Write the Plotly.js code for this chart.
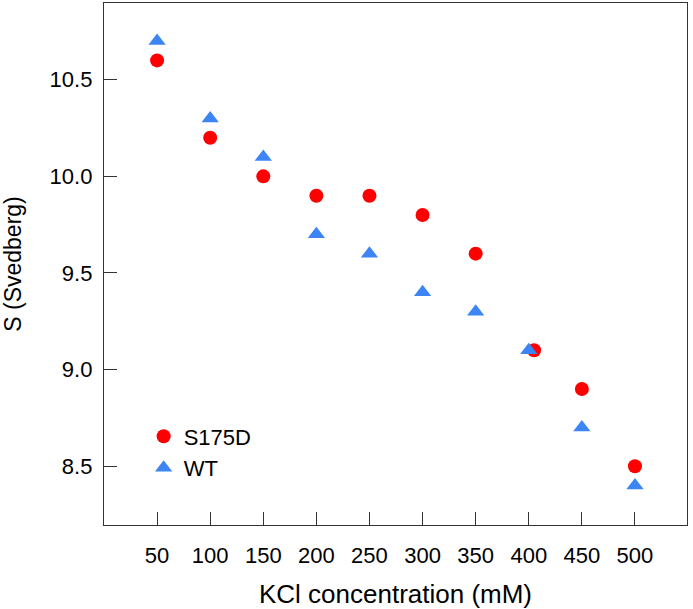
<!DOCTYPE html>
<html>
<head>
<meta charset="utf-8">
<script src="https://cdn.plot.ly/plotly-3.0.1.min.js"></script>
<style>
  html, body { margin: 0; padding: 0; background: #ffffff; }
  #grafica { width: 693px; height: 609px; }
</style>
</head>
<body>
<div id="grafica"></div>
<script>
// === Datos ===
const kclS175D = [50, 100, 150, 200, 250, 300, 350, 405, 450, 500];
const sS175D = [10.6, 10.2, 10.0, 9.9, 9.9, 9.8, 9.6, 9.1, 8.9, 8.5];

const kclWT = [50, 100, 150, 200, 250, 300, 350, 400, 450, 500];
const sWT = [10.7, 10.3, 10.1, 9.7, 9.6, 9.4, 9.3, 9.1, 8.7, 8.4];

const xTicks = [50, 100, 150, 200, 250, 300, 350, 400, 450, 500];
const yTicks = [8.5, 9.0, 9.5, 10.0, 10.5];

const FONT = '"Liberation Sans", Arial, Helvetica, sans-serif';

const traces = [
  {
    x: kclS175D,
    y: sS175D,
    mode: 'markers',
    type: 'scatter',
    name: 'S175D',
    marker: { color: '#ff0000', size: 14, symbol: 'circle' }
  },
  {
    x: kclWT,
    y: sWT,
    mode: 'markers',
    type: 'scatter',
    name: 'WT',
    marker: { color: '#3d85f5', size: 15, symbol: 'triangle-up' }
  }
];

// ejes comunes
const ejeBase = {
  showline: true,
  mirror: true,
  linecolor: '#333333',
  linewidth: 1.3,
  showgrid: false,
  zeroline: false,
  ticks: 'inside',
  ticklen: 13,
  tickwidth: 1.3,
  tickcolor: '#333333',
  tickfont: { family: FONT, size: 22, color: '#000000' }
};

const layout = {
  width: 693,
  height: 609,
  margin: { l: 104, r: 6, t: 2, b: 83 },
  paper_bgcolor: '#ffffff',
  plot_bgcolor: '#ffffff',
  showlegend: true,
  legend: {
    x: 0.068,
    xanchor: 'left',
    y: 0.139,
    yanchor: 'middle',
    bgcolor: 'rgba(0,0,0,0)',
    font: { family: FONT, size: 22, color: '#000000' }
  },
  xaxis: Object.assign({}, ejeBase, {
    range: [0, 549],
    tickvals: xTicks,
    ticktext: xTicks.map(String),
    ticklabelstandoff: 10,
    automargin: true,
    title: {
      text: 'KCl concentration (mM)',
      standoff: 21,
      font: { family: FONT, size: 26, color: '#000000' }
    }
  }),
  yaxis: Object.assign({}, ejeBase, {
    range: [8.196, 10.897],
    tickvals: yTicks,
    ticktext: yTicks.map(v => v.toFixed(1)),
    ticklabelstandoff: 6,
    automargin: true,
    title: {
      text: 'S (Svedberg)',
      standoff: 23,
      font: { family: FONT, size: 23, color: '#000000' }
    }
  })
};

Plotly.newPlot('grafica', traces, layout, { displayModeBar: false, responsive: false });
</script>
</body>
</html>
